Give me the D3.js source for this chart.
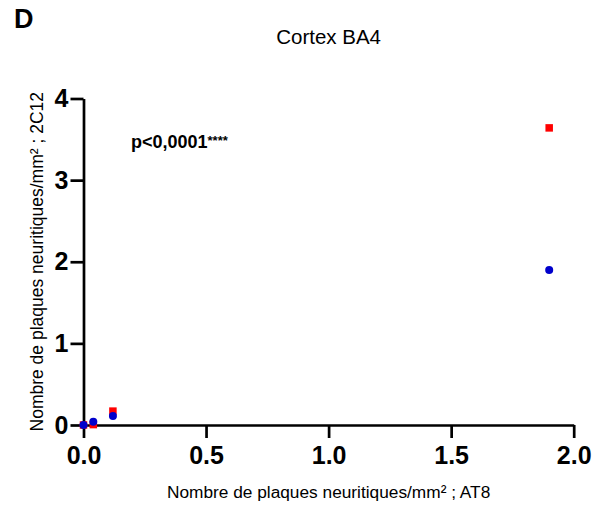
<!DOCTYPE html>
<html>
<head>
<meta charset="utf-8">
<script src="https://cdn.jsdelivr.net/npm/d3@7/dist/d3.min.js"></script>
<style>
  html, body { margin: 0; padding: 0; background: #fff; }
  svg { display: block; font-family: "Liberation Sans", Arial, sans-serif; }
</style>
</head>
<body>
<script>
// AT8 density (x) shared by both series
const at8Density = [0, 0.04, 0.12, 1.9];
// 2C12 density, red squares
const redSquares = [0, 0.005, 0.17, 3.64];
// 2C12 density, blue circles
const blueCircles = [0, 0.04, 0.11, 1.9];
const xTicks = [0, 0.5, 1.0, 1.5, 2.0];
const yTicks = [0, 1, 2, 3, 4];

const W = 606, H = 507;
const svg = d3.select("body").append("svg").attr("width", W).attr("height", H);

const x = d3.scaleLinear().domain([0, 2]).range([83.5, 573.7]);
const y = d3.scaleLinear().domain([0, 4]).range([425, 98.5]);

// x axis
const gx = svg.append("g").attr("transform", `translate(0,${y(0)})`)
  .call(d3.axisBottom(x).tickValues(xTicks).tickFormat(d3.format(".1f")).tickSize(13).tickSizeOuter(0).tickPadding(8));
// y axis
const gy = svg.append("g").attr("transform", `translate(${x(0)},0)`)
  .call(d3.axisLeft(y).tickValues(yTicks).tickFormat(d3.format("d")).tickSize(13).tickSizeOuter(0).tickPadding(2));

[gx, gy].forEach(g => {
  g.select(".domain").attr("stroke", "#000").attr("stroke-width", 2.7);
  g.selectAll(".tick line").attr("stroke", "#000").attr("stroke-width", 2.7);
  g.selectAll(".tick text").attr("fill", "#000")
    .style("font-family", "'Liberation Sans', Arial, sans-serif")
    .style("font-weight", "bold").style("font-size", "25px");
});

// panel letter
svg.append("text").attr("x", 14).attr("y", 28)
  .style("font-weight", "bold").style("font-size", "27px").text("D");

// title
svg.append("text").attr("x", 328.6).attr("y", 44).attr("text-anchor", "middle")
  .style("font-size", "20.5px").text("Cortex BA4");

// significance note
const pt = svg.append("text").attr("x", 131).attr("y", 148)
  .style("font-weight", "bold").style("font-size", "18px");
pt.append("tspan").text("p<0,0001");
pt.append("tspan").attr("dy", -3).style("font-size", "13px").text("****");

// axis titles
svg.append("text").attr("x", 328.6).attr("y", 498).attr("text-anchor", "middle")
  .style("font-size", "17.3px").text("Nombre de plaques neuritiques/mm² ; AT8");
svg.append("text")
  .attr("transform", `translate(43,${(y(0) + y(4)) / 2}) rotate(-90)`)
  .attr("text-anchor", "middle")
  .style("font-size", "17.5px").text("Nombre de plaques neuritiques/mm² ; 2C12");

// markers: squares under circles
const sq = 7.5;
svg.append("g").selectAll("rect").data(at8Density).join("rect")
  .attr("x", (d) => x(d) - sq / 2)
  .attr("y", (d, i) => y(redSquares[i]) - sq / 2)
  .attr("width", sq).attr("height", sq).attr("fill", "#ff0000");
svg.append("g").selectAll("circle").data(at8Density).join("circle")
  .attr("cx", (d) => x(d))
  .attr("cy", (d, i) => y(blueCircles[i]))
  .attr("r", 4).attr("fill", "#0000cc");
</script>
</body>
</html>
